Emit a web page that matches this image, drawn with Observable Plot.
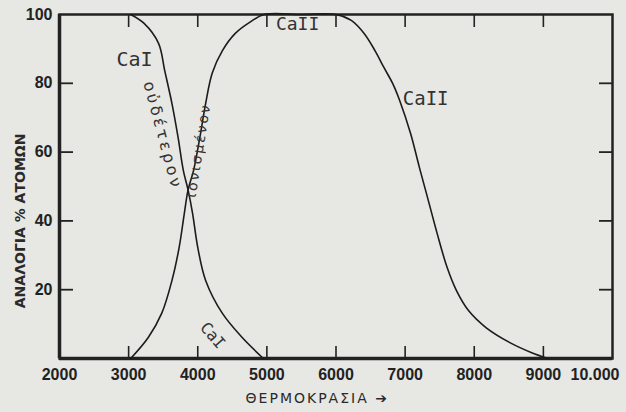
<!DOCTYPE html>
<html>
<head>
<meta charset="utf-8">
<script src="https://cdn.jsdelivr.net/npm/d3@7"></script>
<script src="https://cdn.jsdelivr.net/npm/@observablehq/plot@0.6"></script>
<style>
  html, body { margin: 0; padding: 0; background: #e7e7e3; }
  #chart svg { display: block; background: #e7e7e3; }
</style>
</head>
<body>
<div id="chart"></div>
<script>
// Temperature (K) and percentage of atoms
const caI_T = [3030, 3224, 3433, 3522, 3627, 3716, 3791, 3860, 3925, 4000, 4114, 4357, 4643, 4950];
const caI_V = [100, 97.4, 91.6, 83.7, 74.1, 64.2, 54.7, 49, 42.2, 32.3, 22.7, 13.1, 6.1, 0];

const caII_T = [3030, 3284, 3478, 3627, 3731, 3806, 3860, 3940, 4030, 4114, 4210, 4357, 4543, 4750, 4960,
                5500, 6000, 6221, 6407, 6564, 6693, 6821, 6921, 7079, 7207, 7336, 7464, 7607, 7741, 7914, 8169, 8536, 8831, 9070];
const caII_V = [0, 6.1, 13.1, 22.7, 32.3, 42.2, 49, 54.7, 64.2, 74.1, 83, 89.5, 94.5, 97.7, 100,
                100, 100, 98.3, 94.5, 89.5, 84.6, 79.9, 75, 65.4, 55.5, 45.9, 36.3, 26.5, 19.8, 14, 9, 4.4, 1.7, 0];

const xTicks = [3000, 4000, 5000, 6000, 7000, 8000, 9000];
const xLabels = [2000, 3000, 4000, 5000, 6000, 7000, 8000, 9000];
const xLastLabel = [10000];
const xLastLabelText = "10.000";
const yTicks = [20, 40, 60, 80];
const yLabels = [20, 40, 60, 80, 100];

const xTitle = "ΘΕΡΜΟΚΡΑΣΙΑ ➔";
const yTitle = "ΑΝΑΛΟΓΙΑ % ΑΤΟΜΩΝ";

// annotations: text, temperature, percent
const speciesLabels = [
  {text: "CaI", T: 3085, v: 86.9, rotate: 0, size: 20},
  {text: "CaII", T: 5444, v: 97.2, rotate: 0, size: 18},
  {text: "CaII", T: 7297, v: 75.6, rotate: 0, size: 19},
  {text: "CaI", T: 4214, v: 6.7, rotate: 49, size: 16}
];
const neutralLabel = [{text: "οὐδέτερον", T: 3491, v: 64.8}];
const ionizedLabel = [{text: "ιονισμένον", T: 4012, v: 60.5}];

const caI = caI_T.map((T, i) => ({T, v: caI_V[i]}));
const caII = caII_T.map((T, i) => ({T, v: caII_V[i]}));

const ink = "#222";
const tickFont = "'Liberation Sans', Arial, sans-serif";

const chart = Plot.plot({
  width: 626,
  height: 412,
  marginLeft: 59,
  marginRight: 14,
  marginTop: 14,
  marginBottom: 54,
  style: {background: "#e7e7e3", color: ink, fontFamily: tickFont, fontSize: "16px", fontWeight: "bold"},
  x: {domain: [2000, 10000]},
  y: {domain: [0, 100]},
  marks: [
    Plot.frame({stroke: ink, strokeWidth: 2.5}),
    Plot.ruleX([2000], {stroke: ink, strokeWidth: 3.5}),
    Plot.ruleY([0], {stroke: ink, strokeWidth: 3.5}),
    Plot.axisX(xTicks, {anchor: "bottom", tickSize: -12, tickFormat: () => "", label: null, strokeWidth: 1.6, color: ink}),
    Plot.axisX(xTicks, {anchor: "top", tickSize: -12, tickFormat: () => "", label: null, strokeWidth: 1.6, color: ink}),
    Plot.axisX(xLabels, {anchor: "bottom", tickSize: 0, tickPadding: 10, label: null, tickFormat: d => String(d), color: ink}),
    Plot.axisX(xLastLabel, {anchor: "bottom", tickSize: 0, tickPadding: 10, label: null, tickFormat: () => xLastLabelText, textAnchor: "end", dx: 7, color: ink}),
    Plot.axisY(yTicks, {anchor: "left", tickSize: -14, tickFormat: () => "", label: null, strokeWidth: 1.8, color: ink}),
    Plot.axisY(yTicks, {anchor: "right", tickSize: -14, tickFormat: () => "", label: null, strokeWidth: 1.8, color: ink}),
    Plot.axisY(yLabels, {anchor: "left", tickSize: 0, tickPadding: 7, label: null, color: ink}),
    Plot.line(caI, {x: "T", y: "v", curve: "catmull-rom", stroke: "#1c1c1c", strokeWidth: 1.6}),
    Plot.line(caII, {x: "T", y: "v", curve: "catmull-rom", stroke: "#1c1c1c", strokeWidth: 1.6}),
    Plot.text(speciesLabels, {x: "T", y: "v", text: "text", rotate: "rotate", fontSize: d => d.size,
      fontFamily: "'DejaVu Sans Mono', monospace", fontWeight: "normal", fill: "#333", textAnchor: "middle"}),
    Plot.text(neutralLabel, {x: "T", y: "v", text: "text", rotate: 75, fontSize: 16,
      fontFamily: "'DejaVu Sans', sans-serif", fontWeight: "normal", fill: "#333"}),
    Plot.text(ionizedLabel, {x: "T", y: "v", text: "text", rotate: -81, fontSize: 14,
      fontFamily: "'DejaVu Sans', sans-serif", fontWeight: "normal", fill: "#333"}),
    Plot.text([yTitle], {y: [40], text: d => d, frameAnchor: "left", dx: -39, rotate: -90, textAnchor: "middle",
      fontSize: 14, fontFamily: "'DejaVu Sans', sans-serif", fontWeight: "bold", fill: "#2a2a2a"}),
    Plot.text([xTitle], {x: [4692], text: d => d, frameAnchor: "bottom", dy: 44, textAnchor: "start",
      fontSize: 14, fontFamily: "'DejaVu Sans', sans-serif", fontWeight: "normal", fill: "#2a2a2a"})
  ]
});
document.getElementById("chart").appendChild(chart);

// letter spacing for the spaced-out hand-lettered labels
const spacing = new Map([[xTitle, "2px"], [neutralLabel[0].text, "3px"], [ionizedLabel[0].text, "2px"]]);
d3.select(chart).selectAll("text").each(function() {
  const s = spacing.get(this.textContent);
  if (s) this.style.letterSpacing = s;
});
</script>
</body>
</html>
